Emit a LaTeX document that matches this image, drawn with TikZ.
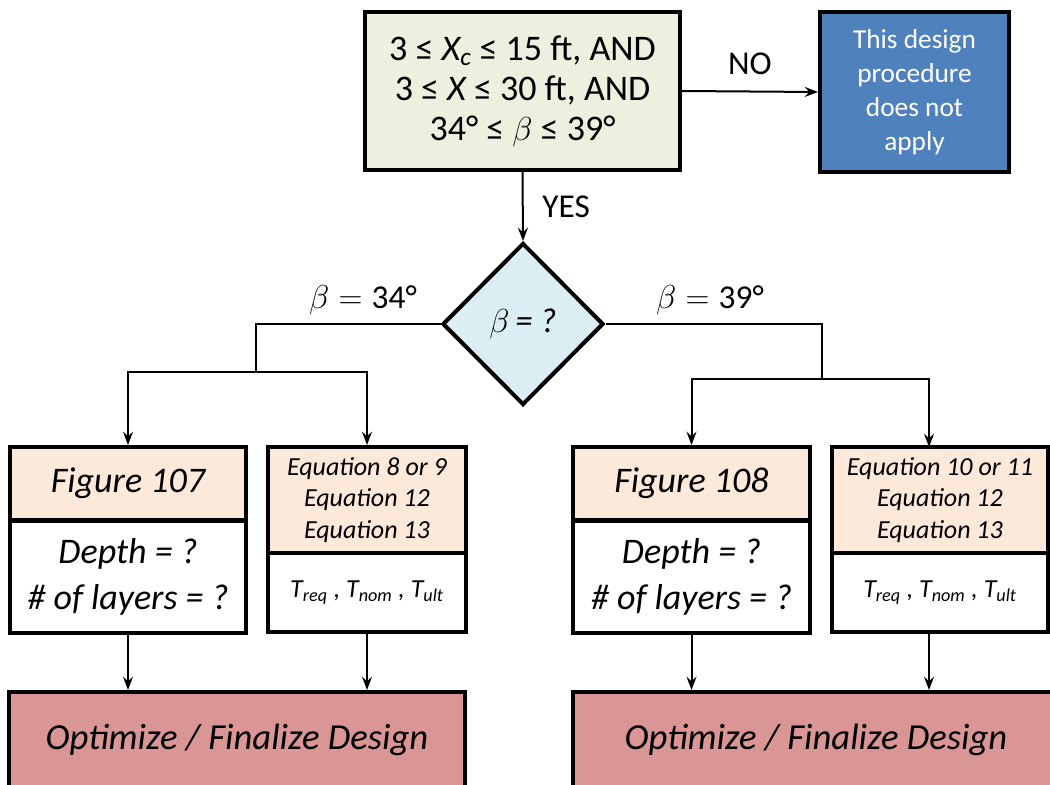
\documentclass[tikz,border=0pt]{standalone}
\usepackage{fontspec}
\setmainfont{Carlito}
\usetikzlibrary{arrows.meta,shapes.geometric}

\definecolor{condfill}{HTML}{EBF1DE}
\definecolor{stopfill}{HTML}{4F81BD}
\definecolor{askfill}{HTML}{DBEEF4}
\definecolor{headfill}{HTML}{FCE9DA}
\definecolor{optfill}{HTML}{D99694}

\newcommand{\tsub}[1]{\textsubscript{\itshape #1}}

\begin{document}
\begin{tikzpicture}[x=0.75pt,y=-0.75pt,
  box/.style={draw=black, line width=3pt, rectangle, inner sep=0pt, align=center},
  link/.style={line width=1.5pt, -{Stealth[length=10pt,width=7.5pt,inset=3.5pt]}},
  lbl/.style={inner sep=0pt, font=\fontsize{25}{30}\selectfont},
  big/.style={font=\fontsize{27}{34}\selectfont\itshape},
  eqs/.style={font=\fontsize{19.5}{23.5}\selectfont\itshape}]

\useasboundingbox (0,0) rectangle (1050,785);
\clip (0,0) rectangle (1050,785);

% decision on the applicable range
\node[box, fill=condfill, minimum width=236.25pt, minimum height=118.5pt,
      font=\fontsize{27}{30}\selectfont] (cond) at (522.5,91)
  {3 ≤ {\itshape X}\tsub{c} ≤ 15 ft, AND\\
   3 ≤ {\itshape X} ≤ 30 ft, AND\\
   34° ≤ $\beta$ ≤ 39°};

\node[box, fill=stopfill, text=white, minimum width=141.75pt, minimum height=120pt,
      font=\fontsize{20.5}{25.5}\selectfont] (stop) at (914.5,92)
  {This design\\procedure\\does not\\apply};

\node[draw=black, line width=3pt, shape=diamond, fill=askfill, inner sep=0pt,
      minimum width=120.75pt, minimum height=121.5pt,
      font=\fontsize{26}{30}\selectfont] (ask) at (523,324)
  {$\beta$\,{\itshape = ?}};

% left branch boxes
\node[box, fill=headfill, minimum width=177pt, minimum height=54.75pt, big] (figA) at (128,483.5) {Figure 107};
\node[box, fill=white, minimum width=177pt, minimum height=84pt, big] (depA) at (128,577) {Depth = ?\\\# of layers = ?};
\node[box, fill=headfill, minimum width=148.5pt, minimum height=79.5pt, eqs] (eqA) at (367,500)
  {Equation 8 or 9\\Equation 12\\Equation 13};
\node[box, fill=white, minimum width=148.5pt, minimum height=59.25pt, eqs] (tA) at (367,592.5)
  {T\tsub{req} , T\tsub{nom} , T\tsub{ult}};

% right branch boxes
\node[box, fill=headfill, minimum width=177.75pt, minimum height=54.75pt, big] (figB) at (691.5,483.5) {Figure 108};
\node[box, fill=white, minimum width=177.75pt, minimum height=84pt, big] (depB) at (691.5,577) {Depth = ?\\\# of layers = ?};
\node[box, fill=headfill, minimum width=162pt, minimum height=79.5pt, eqs] (eqB) at (940,500)
  {Equation 10 or 11\\Equation 12\\Equation 13};
\node[box, fill=white, minimum width=162pt, minimum height=59.25pt, eqs] (tB) at (940,592.5)
  {T\tsub{req} , T\tsub{nom} , T\tsub{ult}};

% final steps
\node[box, fill=optfill, minimum width=342pt, minimum height=72pt,
      font=\fontsize{27.5}{32}\selectfont\itshape] (optA) at (237,740) {Optimize / Finalize Design};
\node[box, fill=optfill, minimum width=364.5pt, minimum height=72pt,
      font=\fontsize{27.5}{32}\selectfont\itshape] (optB) at (816,740) {Optimize / Finalize Design};

% junction points of the branches
\coordinate (jA) at (256,372);
\coordinate (jB) at (822,379);
\coordinate (inB) at (929,447);
\coordinate (outB) at (929,632);

% connectors
\draw[link] (cond.east) -- node[lbl, above=12pt] {NO} (stop.west);
\draw[link] (cond.south) -- node[lbl, right=14pt] {YES} (ask.north);

\draw[link] (ask.west) -| (jA) -| (figA.north);
\draw[link] (jA) -| (eqA.north);
\draw[link] (ask.east) -| (jB) -| (figB.north);
\draw[link] (jB) -| (inB);

\node[lbl] (labA) at (363,300) {$\beta = \mbox{34°}$};
\node[lbl] (labB) at (710,300) {$\beta = \mbox{39°}$};

\draw[link] (depA.south) -- (depA.south |- optA.north);
\draw[link] (tA.south) -- (tA.south |- optA.north);
\draw[link] (depB.south) -- (depB.south |- optB.north);
\draw[link] (outB) -- (outB |- optB.north);

\end{tikzpicture}
\end{document}
